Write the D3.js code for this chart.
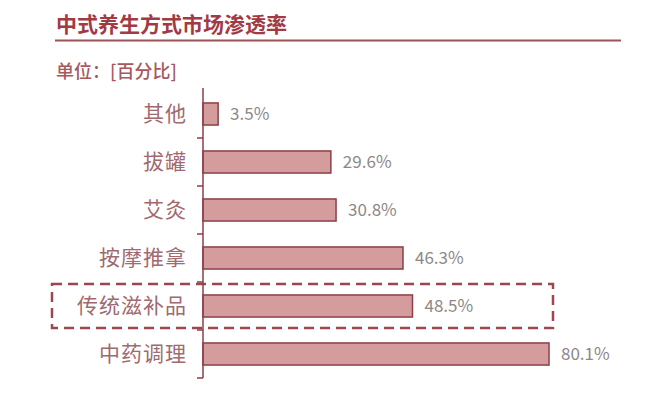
<!DOCTYPE html>
<html>
<head>
<meta charset="utf-8">
<script src="https://cdn.jsdelivr.net/npm/d3@7"></script>
<style>
  body { margin: 0; background: #fff; }
  svg { display: block; }
</style>
</head>
<body>
<div id="grafico"></div>
<script>
// Dados do gráfico
const categorias = ["其他", "拔罐", "艾灸", "按摩推拿", "传统滋补品", "中药调理"]
const valores = [3.5, 29.6, 30.8, 46.3, 48.5, 80.1]
const rotulos = ["3.5%", "29.6%", "30.8%", "46.3%", "48.5%", "80.1%"]
const destaque = "传统滋补品"

const titulo = "中式养生方式市场渗透率"
const unidade = "单位：[百分比]"

const largura = 664, altura = 394
const fonte = "'Noto Sans CJK SC', 'Noto Sans', sans-serif"

let svg = d3.select("#grafico").append("svg")
    .attr("width", largura)
    .attr("height", altura)

// Título e linha abaixo
svg.append("text")
    .attr("x", 56).attr("y", 32)
    .attr("font-family", fonte)
    .attr("font-size", 21)
    .attr("font-weight", 700)
    .attr("fill", "#a23a44")
    .text(titulo)

svg.append("line")
    .attr("x1", 55).attr("x2", 621)
    .attr("y1", 40.5).attr("y2", 40.5)
    .attr("stroke", "#9c5256")
    .attr("stroke-width", 2)

svg.append("text")
    .attr("x", 56).attr("y", 78)
    .attr("font-family", fonte)
    .attr("font-size", 18)
    .attr("font-weight", 500)
    .attr("fill", "#a5595f")
    .text(unidade)

// Escalas
let x = d3.scaleLinear().domain([0, 80.1]).range([203, 549])
let y = d3.scaleBand().domain(categorias).range([90, 378]).paddingInner(0.54).paddingOuter(0.27)

// Caixa tracejada em volta do destaque
let yd = y(destaque) + y.bandwidth() / 2
svg.append("rect")
    .attr("x", 52).attr("y", yd - 22)
    .attr("width", 501).attr("height", 44)
    .attr("fill", "none")
    .attr("stroke", "#9c4652")
    .attr("stroke-width", 2.5)
    .attr("stroke-dasharray", "10,6")

// Barras
svg.selectAll(".barra")
    .data(valores)
    .enter().append("rect")
    .attr("class", "barra")
    .attr("x", x(0))
    .attr("y", (d, i) => y(categorias[i]))
    .attr("width", d => x(d) - x(0))
    .attr("height", y.bandwidth())
    .attr("fill", "#d59c9e")
    .attr("stroke", "#8c3f47")
    .attr("stroke-width", 1.5)

// Eixo Y com marcas entre categorias
let eixo = svg.append("g")
eixo.append("line")
    .attr("x1", 203).attr("x2", 203)
    .attr("y1", 88).attr("y2", 378)
    .attr("stroke", "#8c3f47")
    .attr("stroke-width", 1.5)

let limites = categorias.slice(1).map(c => y(c) - y.step() * y.paddingInner() / 2)
limites.push(378)
eixo.selectAll(".marca")
    .data(limites)
    .enter().append("line")
    .attr("class", "marca")
    .attr("x1", 197).attr("x2", 203)
    .attr("y1", d => d).attr("y2", d => d)
    .attr("stroke", "#8c3f47")
    .attr("stroke-width", 1.5)

// Rótulos das categorias
svg.selectAll(".categoria")
    .data(categorias)
    .enter().append("text")
    .attr("class", "categoria")
    .attr("x", 187)
    .attr("y", d => y(d) + y.bandwidth() / 2)
    .attr("dy", "0.35em")
    .attr("text-anchor", "end")
    .attr("font-family", fonte)
    .attr("font-size", 21)
    .attr("letter-spacing", 1)
    .attr("fill", "#a06a70")
    .text(d => d)

// Rótulos dos valores
svg.selectAll(".valor")
    .data(valores)
    .enter().append("text")
    .attr("class", "valor")
    .attr("x", d => x(d) + 12)
    .attr("y", (d, i) => y(categorias[i]) + y.bandwidth() / 2)
    .attr("dy", "0.36em")
    .attr("font-family", fonte)
    .attr("font-size", 17)
    .attr("fill", "#8e8889")
    .text((d, i) => rotulos[i])
</script>
</body>
</html>
